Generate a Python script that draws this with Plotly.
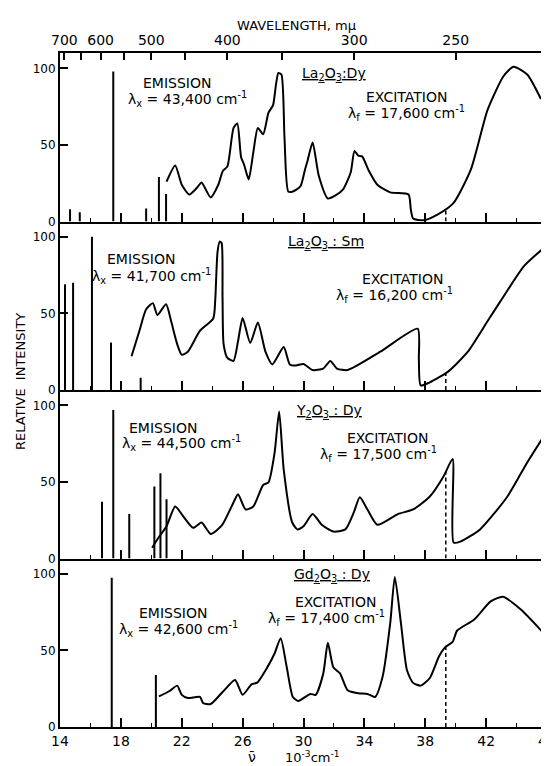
import numpy as np
import plotly.graph_objects as go

# ---------------- data ----------------
X_RANGE = [14, 46]
Y_RANGE = [0, 110]
BOTTOM_TICKS = [14, 18, 22, 26, 30, 34, 38, 42, 46]
Y_TICKS = [0, 50, 100]
WAVELENGTHS = [700, 650, 600, 550, 500, 450, 400, 350, 300, 250]
WAVELENGTH_LABELS = ["700", "", "600", "", "500", "", "400", "", "300", "250"]
DASH_X = 39.35

# Panel 1: La2O3:Dy
p1_em_x = [14.66, 15.3, 17.5, 19.66, 20.5, 20.97]
p1_em_y = [8, 6, 98, 8.5, 29, 18]
p1_ex_x = [21.0, 21.57, 22.0, 22.5, 23.0, 23.3, 23.9, 24.4, 24.7, 25.0, 25.4, 25.65, 25.9, 26.1,
           26.4, 26.7, 27.0, 27.35, 27.7, 28.0, 28.2, 28.35, 28.55, 28.75, 29.0, 29.3, 29.8, 30.1,
           30.25, 30.6, 31.0, 31.6, 32.1, 32.6, 33.1, 33.35, 33.6, 33.85, 34.3, 34.85, 35.7, 36.9,
           37.05, 37.2, 37.9, 38.8, 39.85, 41.0, 42.1, 43.15, 43.8, 44.7, 45.6]
p1_ex_y = [26, 36.6, 24, 17.6, 22, 25.5, 15.7, 24, 33, 36, 61, 64, 42, 37,
           27.5, 45, 61, 57, 71, 76, 90, 97, 96, 55, 19.6, 19.6, 23, 34,
           39, 51.6, 30, 15, 17, 21, 32, 46, 43, 42.5, 33, 24, 19, 17.6,
           8, 2, 0.8, 4.5, 12, 34, 73, 95, 101, 96, 80]

# Panel 2: La2O3:Sm
p2_em_x = [14.33, 14.86, 16.1, 17.35, 19.3]
p2_em_y = [69, 70, 100, 31, 8]
p2_ex_x = [18.7, 19.2, 19.66, 20.1, 20.4, 20.97, 21.3, 21.7, 22.0, 22.4, 23.2, 24.07, 24.2, 24.35,
           24.5, 24.62, 24.68, 24.75, 25.0, 25.4, 25.7, 26.0, 26.5, 27.0, 27.5, 27.95, 28.7, 29.1,
           29.5, 30.0, 30.6, 31.3, 31.76, 32.2, 32.9, 35.05, 37.5, 37.58, 37.7, 38.3, 39.5, 40.8,
           42.1, 43.4, 44.5, 45.7]
p2_ex_y = [22, 38, 52.7, 56.7, 49, 56, 45, 30, 23, 25, 38.7, 46.7, 58.7, 90,
           97, 96, 60, 30, 21, 19, 32, 47, 30.7, 44, 25, 16.7, 28, 16.7,
           16, 17, 13, 14, 19, 14, 13, 25, 40, 20, 3, 5, 12, 25,
           45, 65, 81, 92]

# Panel 3: Y2O3:Dy
p3_em_x = [16.76, 17.5, 18.55, 20.2, 20.6, 21.0]
p3_em_y = [37, 97, 29, 47, 55.6, 38.6]
p3_ex_x = [20.05, 20.5, 21.0, 21.57, 22.1, 22.75, 23.3, 23.9, 24.66, 25.4, 25.7, 26.2, 26.7, 27.35,
           27.7, 28.1, 28.4, 28.7, 29.26, 29.6, 30.0, 30.6, 31.2, 31.96, 32.75, 33.3, 33.7, 34.2,
           34.85, 36.2, 37.2, 38.3, 39.2, 39.8, 39.86, 40.3, 41.6, 43.4, 44.7, 45.8]
p3_ex_y = [7, 14, 21, 34, 27.5, 20, 23.5, 16, 22, 36.6, 42, 32, 34, 48,
           49.7, 69, 96, 58, 23.5, 19, 21, 29, 22, 17.6, 19, 30, 40, 32,
           22, 29, 32, 40.5, 53.6, 65, 10.5, 11, 19, 40.5, 62.7, 80]

# Panel 4: Gd2O3:Dy
p4_em_x = [17.4, 20.3]
p4_em_y = [97.4, 34]
p4_ex_x = [20.5, 21.2, 21.7, 22.0, 22.4, 23.2, 23.4, 23.9, 24.7, 25.5, 26.0, 26.6, 26.96, 27.6,
           28.1, 28.5, 28.9, 29.3, 29.66, 30.45, 30.8, 31.3, 31.6, 31.96, 32.4, 32.9, 33.6, 34.2,
           34.7, 35.2, 35.7, 36.0, 36.4, 36.8, 37.2, 37.7, 38.3, 38.9, 39.3, 39.8, 40.1, 41.2,
           42.3, 43.1, 44.3, 45.8]
p4_ex_y = [20, 23.5, 27, 21, 19, 19.6, 15.7, 15, 23, 30.7, 21, 28, 29, 38.6,
           48, 58, 39, 19.6, 17, 21.6, 21, 35, 55, 39, 35, 24, 22, 21.6,
           19.6, 33, 68, 98, 68, 37, 28.8, 27, 32, 46, 52, 55.6, 63, 70,
           82, 85, 76.5, 61]

compounds = ["La<sub>2</sub>O<sub>3</sub>:Dy", "La<sub>2</sub>O<sub>3</sub> : Sm",
             "Y<sub>2</sub>O<sub>3</sub> : Dy", "Gd<sub>2</sub>O<sub>3</sub> : Dy"]
emission_lambda = ["43,400", "41,700", "44,500", "42,600"]
excitation_lambda = ["17,600", "16,200", "17,500", "17,400"]

panels = [
    (p1_em_x, p1_em_y, p1_ex_x, p1_ex_y),
    (p2_em_x, p2_em_y, p2_ex_x, p2_ex_y),
    (p3_em_x, p3_em_y, p3_ex_x, p3_ex_y),
    (p4_em_x, p4_em_y, p4_ex_x, p4_ex_y),
]

# label placement (data coords of each panel)
label_pos = [
    dict(em=(21.7, 90.5, 22.4, 80), comp=(32.0, 96), exc=(36.8, 81.5, 36.8, 71)),
    dict(em=(19.3, 85.5, 20.0, 74.7), comp=(31.5, 96.7), exc=(36.5, 72.5, 36.0, 62.3)),
    dict(em=(20.8, 85.5, 22.0, 75.5), comp=(31.7, 96), exc=(35.5, 78.5, 34.9, 68)),
    dict(em=(21.4, 74.5, 21.8, 64), comp=(31.9, 99), exc=(32.1, 81.5, 31.5, 71)),
]

FONT = "DejaVu Sans"
BLACK = "black"

fig = go.Figure()
domains = [[0.75, 1.0], [0.5, 0.75], [0.25, 0.5], [0.0, 0.25]]
annotations = []

for i, (emx, emy, exx, exy) in enumerate(panels):
    n = "" if i == 0 else str(i + 1)
    xa, ya = "x" + n, "y" + n
    lx, ly = [], []
    for xv, yv in zip(emx, emy):
        lx += [xv, xv, None]
        ly += [0, yv, None]
    fig.add_trace(go.Scatter(x=lx, y=ly, mode="lines", line=dict(color=BLACK, width=2),
                             xaxis=xa, yaxis=ya, showlegend=False, hoverinfo="skip"))
    fig.add_trace(go.Scatter(x=exx, y=exy, mode="lines",
                             line=dict(color=BLACK, width=2, shape="spline", smoothing=0.6),
                             xaxis=xa, yaxis=ya, showlegend=False, hoverinfo="skip"))
    yd = float(np.interp(DASH_X, exx, exy))
    fig.add_trace(go.Scatter(x=[DASH_X, DASH_X], y=[0, yd], mode="lines",
                             line=dict(color=BLACK, width=1.5, dash="4px,3px"),
                             xaxis=xa, yaxis=ya, showlegend=False, hoverinfo="skip"))

    fig.layout["xaxis" + n] = dict(
        domain=[0, 1], range=X_RANGE, anchor=ya, showline=True, linecolor=BLACK, linewidth=2,
        ticks="inside", tickvals=BOTTOM_TICKS, ticklen=9, tickwidth=1.5, tickcolor=BLACK,
        showticklabels=(i == 3), showgrid=False, zeroline=False,
        tickfont=dict(family=FONT, size=14, color=BLACK), ticklabeloverflow="allow",
        minor=dict(tickvals=list(range(16, 46, 2)), ticks="inside", ticklen=4, tickwidth=1.2,
                   tickcolor=BLACK, showgrid=False),
    )
    fig.layout["yaxis" + n] = dict(
        domain=domains[i], range=Y_RANGE, anchor=xa, showline=True, mirror=True,
        linecolor=BLACK, linewidth=2, ticks="inside", tickvals=Y_TICKS, ticklen=8,
        tickwidth=1.5, tickcolor=BLACK, showgrid=False, zeroline=False,
        tickfont=dict(family=FONT, size=12, color=BLACK),
    )

    lp = label_pos[i]
    annotations += [
        dict(x=lp["em"][0], y=lp["em"][1], xref=xa, yref=ya, text="EMISSION", showarrow=False,
             font=dict(family=FONT, size=14, color=BLACK)),
        dict(x=lp["em"][2], y=lp["em"][3], xref=xa, yref=ya,
             text="λ<sub>x</sub> = " + emission_lambda[i] + " cm<sup>-1</sup>", showarrow=False,
             font=dict(family=FONT, size=14, color=BLACK)),
        dict(x=lp["comp"][0], y=lp["comp"][1], xref=xa, yref=ya,
             text="<u>" + compounds[i] + "</u>", showarrow=False,
             font=dict(family=FONT, size=14, color=BLACK)),
        dict(x=lp["exc"][0], y=lp["exc"][1], xref=xa, yref=ya, text="EXCITATION", showarrow=False,
             font=dict(family=FONT, size=14, color=BLACK)),
        dict(x=lp["exc"][2], y=lp["exc"][3], xref=xa, yref=ya,
             text="λ<sub>f</sub> = " + excitation_lambda[i] + " cm<sup>-1</sup>", showarrow=False,
             font=dict(family=FONT, size=14, color=BLACK)),
    ]

# top wavelength axis
top_vals = [10000.0 / w for w in WAVELENGTHS]
fig.add_trace(go.Scatter(x=[top_vals[0]], y=[None], xaxis="x5", yaxis="y", showlegend=False,
                         hoverinfo="skip"))
fig.layout["xaxis5"] = dict(
    overlaying="x", anchor="y", side="top", range=X_RANGE, showline=True, linecolor=BLACK,
    linewidth=2, ticks="inside", tickvals=top_vals, ticktext=WAVELENGTH_LABELS, ticklen=7,
    tickwidth=1.5, tickcolor=BLACK, showgrid=False, zeroline=False,
    tickfont=dict(family=FONT, size=14, color=BLACK),
)

annotations += [
    dict(x=0.486, y=1.0415, xref="paper", yref="paper", xanchor="center", yanchor="middle",
         text="WAVELENGTH, mμ", showarrow=False, font=dict(family=FONT, size=13, color=BLACK)),
    dict(x=-0.080, y=0.512, xref="paper", yref="paper", xanchor="center", yanchor="middle",
         text="RELATIVE  INTENSITY", textangle=-90, showarrow=False,
         font=dict(family=FONT, size=13, color=BLACK)),
    dict(x=0.395, y=-0.045, xref="paper", yref="paper", xanchor="center", yanchor="middle",
         text="ν\u0304", showarrow=False, font=dict(family=FONT, size=14, color=BLACK)),
    dict(x=0.518, y=-0.045, xref="paper", yref="paper", xanchor="center", yanchor="middle",
         text="10<sup>-3</sup>cm<sup>-1</sup>", showarrow=False,
         font=dict(family=FONT, size=13, color=BLACK)),
]

# page body has a default margin, so margins are shifted to compensate
fig.update_layout(
    width=549, height=766, margin=dict(l=52, r=1, t=45, b=47),
    plot_bgcolor="white", paper_bgcolor="white", annotations=annotations,
    font=dict(family=FONT, color=BLACK),
)

fig.write_html("out.html")
